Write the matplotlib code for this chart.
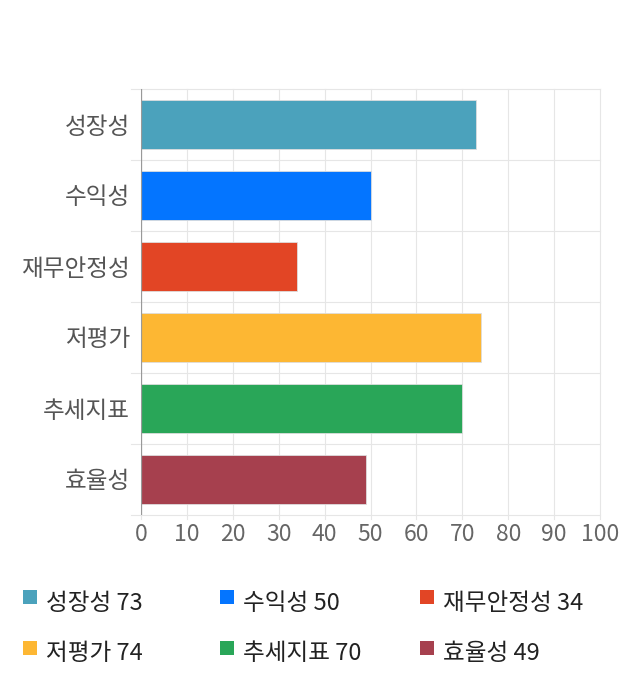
import matplotlib.pyplot as plt
import matplotlib.patches as mpatches

plt.rcParams['font.family'] = ['Noto Sans CJK KR', 'DejaVu Sans']

# 데이터
categories = ['성장성', '수익성', '재무안정성', '저평가', '추세지표', '효율성']
scores = [73, 50, 34, 74, 70, 49]
bar_colors = ['#4ba2bc', '#0475ff', '#e24525', '#fdb733', '#29a658', '#a6404e']
x_ticks = [0, 10, 20, 30, 40, 50, 60, 70, 80, 90, 100]

fig = plt.figure(figsize=(6.4, 7), dpi=100)
ax = fig.add_axes([141 / 640, 1 - 515 / 700, 459 / 640, 426 / 700])

n = len(categories)
ypos = list(range(n))
ax.barh(ypos, scores, height=0.69, color=bar_colors,
        edgecolor='#dddddd', linewidth=0.6, zorder=3)

ax.set_xlim(0, 100)
ax.set_ylim(n - 0.5, -0.5)

# 그리드
for xt in x_ticks:
    ax.plot([xt, xt], [-0.5, n - 0.45], color='#e6e6e6', linewidth=0.8,
            clip_on=False, zorder=1)
for k in range(n + 1):
    ax.plot([-2.2, 100], [k - 0.5, k - 0.5], color='#e6e6e6',
            linewidth=0.8, clip_on=False, zorder=1)
ax.axvline(0, color='#999999', linewidth=0.9, zorder=4)

for s in ax.spines.values():
    s.set_visible(False)

ax.set_xticks(x_ticks)
ax.set_xticklabels([str(v) for v in x_ticks], fontsize=16.5, color='#666666')
ax.set_yticks(ypos)
ax.set_yticklabels(categories, fontsize=17, color='#555555')
ax.tick_params(axis='x', length=0, pad=6)
ax.tick_params(axis='y', length=0, pad=8)

# 범례
col_x = [23, 220, 420]
row_y = [603, 654]
for i, (cat, val, c) in enumerate(zip(categories, scores, bar_colors)):
    px = col_x[i % 3]
    py = row_y[i // 3]
    fig.patches.append(mpatches.Rectangle((px / 640, 1 - (py + 1) / 700), 14 / 640, 14 / 700,
                                          transform=fig.transFigure, facecolor=c,
                                          edgecolor='none'))
    fig.text((px + 23) / 640, 1 - py / 700, f'{cat} {val}', fontsize=17,
             color='#222222', va='center', ha='left')

fig.savefig('out.png', dpi=100)
